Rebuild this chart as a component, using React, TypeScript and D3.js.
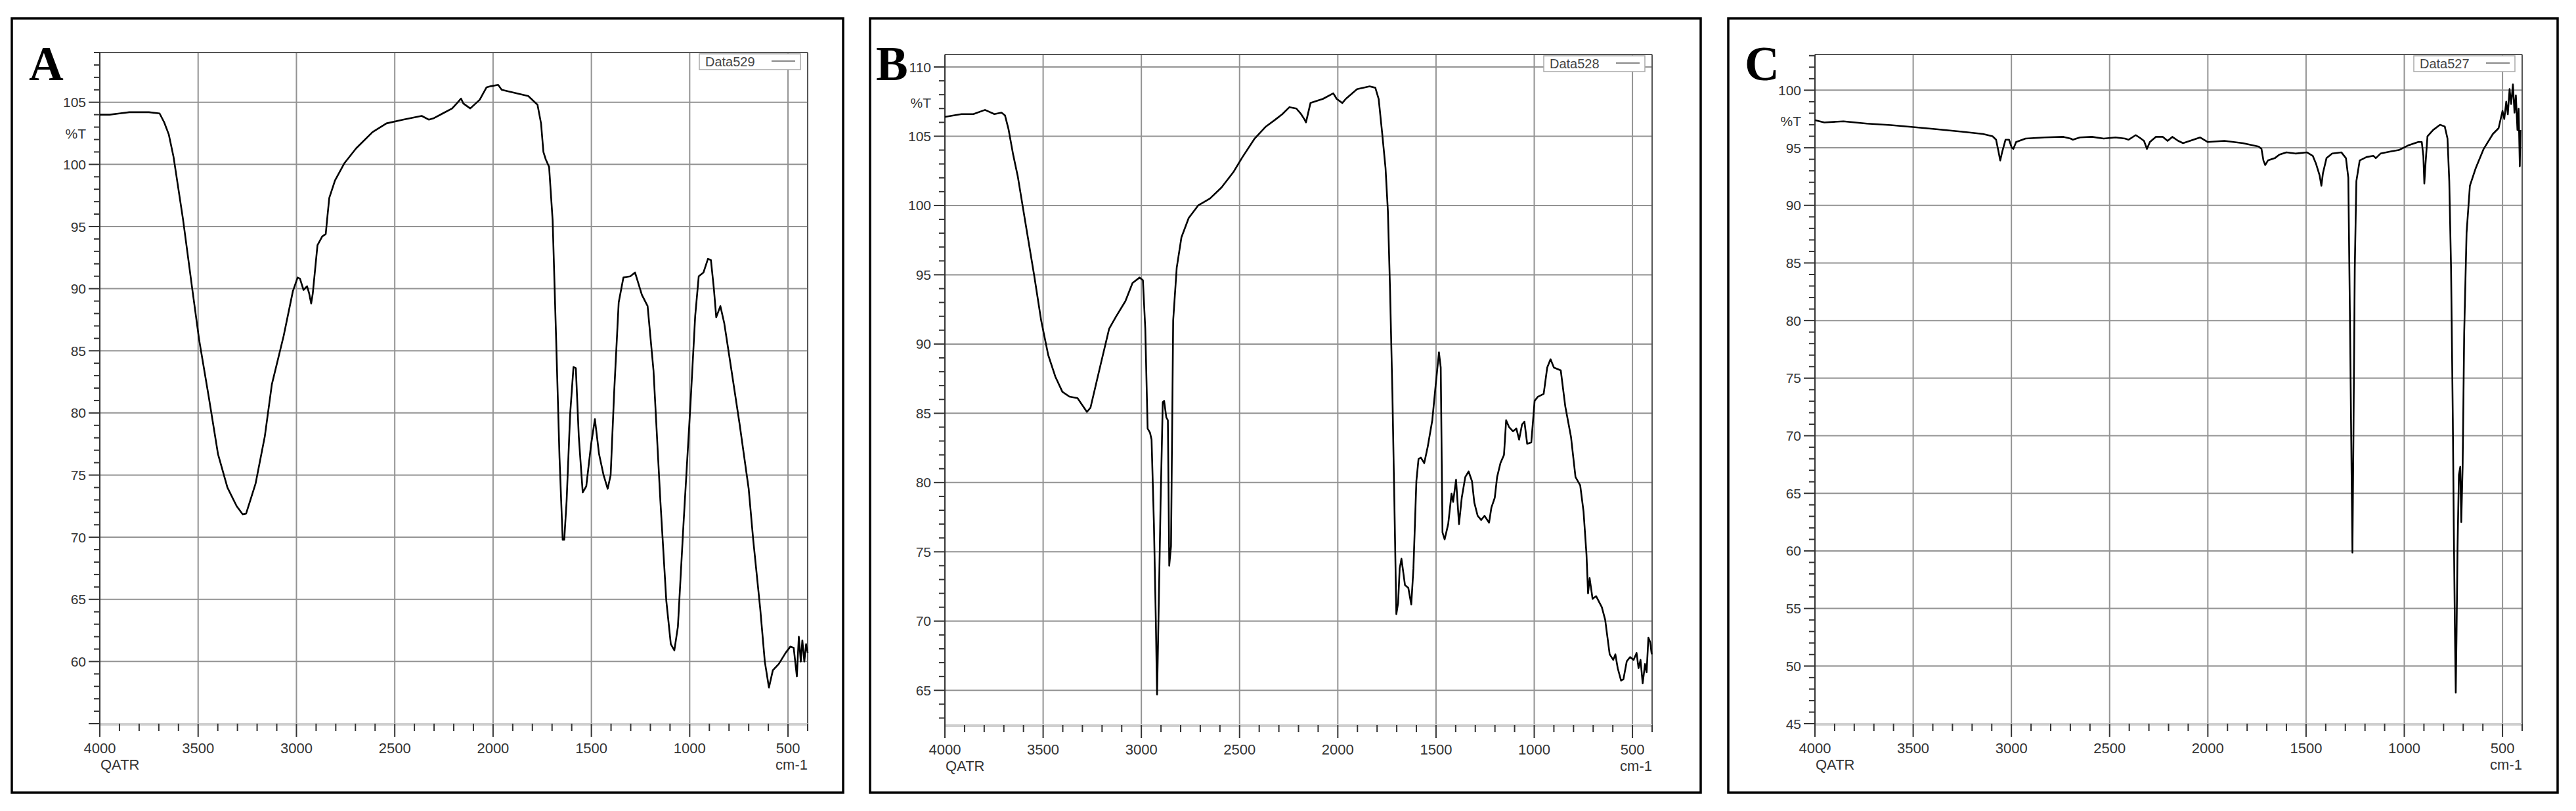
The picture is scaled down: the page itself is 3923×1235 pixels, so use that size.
import React from 'react';
import * as d3 from 'd3';

const X_TICKS = [4000, 3500, 3000, 2500, 2000, 1500, 1000, 500];
const Y_TICKS_A = [60, 65, 70, 75, 80, 85, 90, 95, 100, 105];
const Y_TICKS_B = [65, 70, 75, 80, 85, 90, 95, 100, 105, 110];
const Y_TICKS_C = [45, 50, 55, 60, 65, 70, 75, 80, 85, 90, 95, 100];

const SPEC_A: [number, number][] = [
  [4000, 104.0], [3950, 104.0], [3900, 104.1], [3850, 104.2], [3800, 104.2], [3750, 104.2], [3696, 104.1],
  [3673, 103.4], [3649, 102.4], [3625, 100.6], [3577, 95.6], [3530, 90.0], [3494, 85.8], [3446, 81.3],
  [3399, 76.7], [3351, 74.0], [3304, 72.5], [3274, 71.85], [3256, 71.9], [3208, 74.3], [3161, 78.1],
  [3125, 82.3], [3065, 86.2], [3018, 89.8], [2994, 90.9], [2982, 90.8], [2964, 89.9], [2946, 90.2],
  [2935, 89.6], [2925, 88.8], [2917, 89.6], [2893, 93.5], [2869, 94.2], [2851, 94.4], [2845, 95.4],
  [2833, 97.3], [2804, 98.7], [2756, 100.1], [2696, 101.3], [2613, 102.6], [2542, 103.3], [2458, 103.6],
  [2363, 103.9], [2327, 103.6], [2304, 103.7], [2256, 104.1], [2208, 104.5], [2179, 105.0], [2163, 105.3],
  [2151, 104.9], [2116, 104.5], [2068, 105.2], [2033, 106.2], [2009, 106.3], [1974, 106.4], [1956, 106.0],
  [1903, 105.8], [1821, 105.5], [1774, 104.8], [1756, 103.3], [1744, 101.0], [1732, 100.4], [1715, 99.8],
  [1697, 95.5], [1679, 85.8], [1662, 76.4], [1646, 69.8], [1638, 69.8], [1626, 72.9], [1608, 79.9],
  [1591, 83.7], [1579, 83.6], [1564, 78.1], [1544, 73.6], [1526, 74.1], [1502, 77.4], [1482, 79.5],
  [1461, 76.7], [1438, 75.0], [1417, 73.9], [1402, 75.0], [1384, 81.7], [1361, 88.9], [1337, 90.9],
  [1302, 91.0], [1278, 91.3], [1243, 89.5], [1214, 88.6], [1184, 83.4], [1149, 72.9], [1119, 64.9],
  [1096, 61.4], [1078, 60.9], [1060, 62.8], [1031, 71.2], [995, 81.0], [972, 87.8], [954, 91.0],
  [930, 91.3], [907, 92.4], [892, 92.3], [877, 90.0], [865, 87.7], [844, 88.6], [824, 87.2], [794, 84.1],
  [747, 79.2], [700, 73.9], [677, 69.8], [641, 64.2], [618, 60.0], [597, 57.9], [577, 59.3], [547, 59.8],
  [512, 60.7], [488, 61.2], [471, 61.1], [455, 58.8], [445, 62.0], [435, 60.0], [427, 61.7], [417, 60.0],
  [408, 61.4], [400, 60.7],
];

const SPEC_B: [number, number][] = [
  [4000, 106.4], [3915, 106.6], [3855, 106.6], [3796, 106.9], [3748, 106.6], [3712, 106.7], [3694, 106.5],
  [3676, 105.5], [3653, 103.7], [3629, 102.1], [3593, 99.0], [3545, 94.9], [3510, 91.7], [3474, 89.2],
  [3438, 87.65], [3402, 86.55], [3366, 86.2], [3325, 86.1], [3301, 85.6], [3277, 85.1], [3259, 85.4],
  [3211, 88.3], [3164, 91.1], [3128, 92.0], [3081, 93.1], [3045, 94.4], [3009, 94.8], [2992, 94.6],
  [2980, 91.1], [2968, 83.9], [2956, 83.6], [2948, 83.1], [2936, 77.0], [2926, 69.8], [2920, 64.7],
  [2912, 70.7], [2902, 78.55], [2891, 85.8], [2884, 85.9], [2873, 84.7], [2865, 84.5], [2858, 74.0],
  [2849, 75.4], [2838, 91.7], [2820, 95.5], [2796, 97.7], [2759, 99.1], [2711, 100.0], [2651, 100.5],
  [2592, 101.3], [2532, 102.4], [2485, 103.5], [2425, 104.8], [2366, 105.7], [2318, 106.2], [2282, 106.6],
  [2246, 107.1], [2211, 107.0], [2187, 106.6], [2169, 106.2], [2162, 106.0], [2139, 107.4], [2075, 107.7],
  [2023, 108.1], [2006, 107.7], [1977, 107.4], [1959, 107.7], [1902, 108.4], [1838, 108.6], [1809, 108.5],
  [1792, 107.7], [1774, 105.2], [1757, 102.7], [1745, 99.6], [1734, 93.9], [1722, 86.4], [1710, 77.0],
  [1702, 70.5], [1693, 71.3], [1685, 73.8], [1676, 74.5], [1658, 72.6], [1641, 72.4], [1626, 71.2],
  [1615, 73.8], [1600, 80.1], [1589, 81.7], [1577, 81.8], [1560, 81.4], [1542, 82.6], [1519, 84.5],
  [1502, 87.0], [1485, 89.4], [1476, 88.3], [1467, 76.4], [1456, 75.9], [1438, 77.0], [1421, 79.2],
  [1413, 78.6], [1398, 80.2], [1383, 77.0], [1369, 78.9], [1351, 80.4], [1334, 80.8], [1317, 80.1],
  [1305, 78.55], [1288, 77.6], [1270, 77.3], [1253, 77.6], [1230, 77.1], [1218, 78.2], [1201, 78.9],
  [1189, 80.4], [1172, 81.4], [1154, 82.0], [1143, 84.5], [1128, 84.0], [1108, 83.7], [1091, 83.9],
  [1077, 83.1], [1062, 84.2], [1050, 84.4], [1036, 82.8], [1015, 82.9], [998, 85.9], [981, 86.2],
  [952, 86.4], [934, 88.3], [917, 88.9], [900, 88.3], [865, 88.1], [842, 85.5], [813, 83.3], [790, 80.4],
  [766, 79.8], [749, 77.9], [734, 74.8], [726, 72.0], [718, 73.1], [703, 71.6], [685, 71.8], [656, 71.0],
  [639, 70.1], [616, 67.6], [598, 67.2], [587, 67.6], [575, 66.6], [558, 65.7], [546, 65.8], [529, 67.1],
  [512, 67.4], [494, 67.2], [479, 67.7], [469, 66.6], [459, 67.2], [448, 65.5], [436, 66.9], [428, 66.3],
  [419, 68.8], [410, 68.5], [402, 67.6],
];

const SPEC_C: [number, number][] = [
  [4000, 97.4], [3952, 97.2], [3855, 97.3], [3735, 97.1], [3614, 96.97], [3500, 96.8], [3373, 96.6],
  [3253, 96.4], [3145, 96.2], [3096, 96.0], [3078, 95.7], [3066, 94.7], [3057, 93.9], [3046, 94.7],
  [3030, 95.7], [3012, 95.7], [2998, 95.0], [2990, 94.9], [2976, 95.5], [2928, 95.8], [2831, 95.9],
  [2735, 95.95], [2699, 95.8], [2687, 95.7], [2651, 95.9], [2590, 95.95], [2530, 95.8], [2470, 95.9],
  [2422, 95.8], [2404, 95.7], [2367, 96.1], [2349, 95.9], [2325, 95.6], [2310, 94.9], [2295, 95.5],
  [2265, 95.95], [2229, 95.95], [2205, 95.6], [2181, 95.95], [2151, 95.6], [2126, 95.4], [2091, 95.6],
  [2039, 95.9], [2000, 95.5], [1916, 95.6], [1822, 95.4], [1741, 95.1], [1727, 94.9], [1717, 93.9],
  [1708, 93.5], [1694, 93.9], [1659, 94.1], [1636, 94.4], [1600, 94.6], [1554, 94.5], [1495, 94.6],
  [1466, 94.3], [1449, 93.6], [1431, 92.6], [1422, 91.7], [1414, 92.8], [1396, 94.1], [1367, 94.5],
  [1320, 94.6], [1297, 94.1], [1285, 92.4], [1277, 80.8], [1270, 69.6], [1264, 59.85], [1259, 69.6],
  [1252, 84.6], [1244, 92.1], [1227, 93.9], [1192, 94.2], [1157, 94.3], [1145, 94.1], [1121, 94.5],
  [1063, 94.7], [1028, 94.8], [981, 95.2], [929, 95.5], [911, 95.5], [903, 94.3], [898, 91.9], [892, 93.6],
  [882, 96.0], [853, 96.55], [818, 97.0], [794, 96.85], [780, 95.8], [771, 92.1], [762, 84.6], [753, 71.5],
  [748, 62.1], [742, 52.7], [738, 47.7], [734, 52.7], [729, 60.2], [722, 66.6], [715, 67.3], [710, 62.5],
  [703, 67.3], [695, 78.95], [683, 87.6], [666, 91.7], [637, 93.2], [596, 94.9], [549, 96.2], [520, 96.7],
  [500, 98.2], [491, 97.5], [481, 99.0], [473, 97.9], [464, 100.1], [456, 98.8], [447, 100.5], [439, 98.05],
  [432, 99.55], [424, 96.55], [418, 98.4], [412, 93.4], [409, 96.55],
];

type PanelCfg = {
  label: string;
  legend: string;
  data: [number, number][];
  yTicks: number[];
  yDomain: [number, number];
  frame: [number, number, number, number];
  plot: { l: number; r: number; t: number; b: number };
  labelX: number;
  pctT: number;
};

const PANELS: PanelCfg[] = [
  {
    label: 'A', legend: 'Data529', data: SPEC_A, yTicks: Y_TICKS_A, yDomain: [55, 109],
    frame: [18, 28, 1284, 1207], plot: { l: 152, r: 1230, t: 80, b: 1102 }, labelX: 44, pctT: 102.5,
  },
  {
    label: 'B', legend: 'Data528', data: SPEC_B, yTicks: Y_TICKS_B, yDomain: [62.5, 110.9],
    frame: [1325, 28, 2590, 1207], plot: { l: 1439, r: 2516, t: 83, b: 1104 }, labelX: 1334, pctT: 107.4,
  },
  {
    label: 'C', legend: 'Data527', data: SPEC_C, yTicks: Y_TICKS_C, yDomain: [45, 103.1],
    frame: [2632, 28, 3895, 1207], plot: { l: 2764, r: 3841, t: 83, b: 1102 }, labelX: 2657, pctT: 97.3,
  },
];

const FONT = "'Liberation Sans', Arial, sans-serif";

function Panel({ cfg }: { cfg: PanelCfg }) {
  const { l, r, t, b } = cfg.plot;
  const x = d3.scaleLinear().domain([4000, 400]).range([l, r]);
  const y = d3.scaleLinear().domain(cfg.yDomain).range([b, t]);
  const line = d3.line<[number, number]>().x((d) => x(d[0])).y((d) => y(d[1]));
  const minorY = d3.range(Math.ceil(cfg.yDomain[0]), Math.floor(cfg.yDomain[1]) + 1);
  const minorX = d3.range(400, 4001, 100);
  const [fx0, fy0, fx1, fy1] = cfg.frame;
  const lgW = 154;
  const lgH = 24;
  const lgX = r - 11 - lgW;
  const lgY = t + 2;
  return (
    <g>
      <rect x={fx0} y={fy0} width={fx1 - fx0} height={fy1 - fy0} fill="#fff" stroke="#000" strokeWidth={3.5} />
      {cfg.yTicks.map((v) => (
        <line key={'gy' + v} x1={l} x2={r} y1={y(v)} y2={y(v)} stroke="#939393" strokeWidth={2} />
      ))}
      {X_TICKS.map((v) => (
        <line key={'gx' + v} x1={x(v)} x2={x(v)} y1={t} y2={b} stroke="#939393" strokeWidth={2} />
      ))}
      <line x1={l} x2={r} y1={t} y2={t} stroke="#555" strokeWidth={2} />
      <line x1={r} x2={r} y1={t} y2={b} stroke="#555" strokeWidth={2} />
      <line x1={l} x2={r} y1={b + 1} y2={b + 1} stroke="#cfcfcf" strokeWidth={4} />
      <line x1={l} x2={l} y1={t} y2={b + 20} stroke="#333" strokeWidth={2} />
      {minorY.map((v) => {
        const major = v % 5 === 0;
        return (
          <line key={'ty' + v} x1={l - (major ? 17 : 9)} x2={l} y1={y(v)} y2={y(v)} stroke="#333" strokeWidth={2} />
        );
      })}
      {cfg.yTicks.map((v) => (
        <text key={'ly' + v} x={l - 21} y={y(v)} dy="0.36em" textAnchor="end" fontFamily={FONT} fontSize={21} fill="#333">
          {v}
        </text>
      ))}
      <text x={l - 21} y={y(cfg.pctT)} dy="0.36em" textAnchor="end" fontFamily={FONT} fontSize={21} fill="#333">
        %T
      </text>
      {minorX.map((v) => {
        const major = v % 500 === 0;
        return (
          <line key={'tx' + v} x1={x(v)} x2={x(v)} y1={b} y2={b + (major ? 20 : 11)} stroke="#333" strokeWidth={2} />
        );
      })}
      {X_TICKS.map((v) => (
        <text key={'lx' + v} x={x(v)} y={b + 45} textAnchor="middle" fontFamily={FONT} fontSize={22} fill="#333">
          {v}
        </text>
      ))}
      <text x={l + 1} y={b + 70} textAnchor="start" fontFamily={FONT} fontSize={22} fill="#333">
        QATR
      </text>
      <text x={r} y={b + 70} textAnchor="end" fontFamily={FONT} fontSize={22} fill="#333">
        cm-1
      </text>
      <path d={line(cfg.data) || ''} fill="none" stroke="#000" strokeWidth={2.6} strokeLinejoin="round" />
      <rect x={lgX} y={lgY} width={lgW} height={lgH} fill="#fff" stroke="#aaa" strokeWidth={1.5} />
      <text x={lgX + 9} y={lgY + lgH / 2} dy="0.36em" fontFamily={FONT} fontSize={20} fill="#444">
        {cfg.legend}
      </text>
      <line x1={lgX + 110} x2={lgX + 146} y1={lgY + 11} y2={lgY + 11} stroke="#888" strokeWidth={2} />
      <text x={cfg.labelX} y={122} fontFamily="'Liberation Serif', 'Times New Roman', serif" fontWeight="bold" fontSize={73} fill="#000">
        {cfg.label}
      </text>
    </g>
  );
}

export default function App() {
  return (
    <svg
      width={3923}
      height={1235}
      viewBox="0 0 3923 1235"
      style={{ position: 'absolute', left: 0, top: 0, background: '#fff' }}
    >
      <rect x={0} y={0} width={3923} height={1235} fill="#fff" />
      {PANELS.map((p) => (
        <Panel key={p.label} cfg={p} />
      ))}
    </svg>
  );
}
